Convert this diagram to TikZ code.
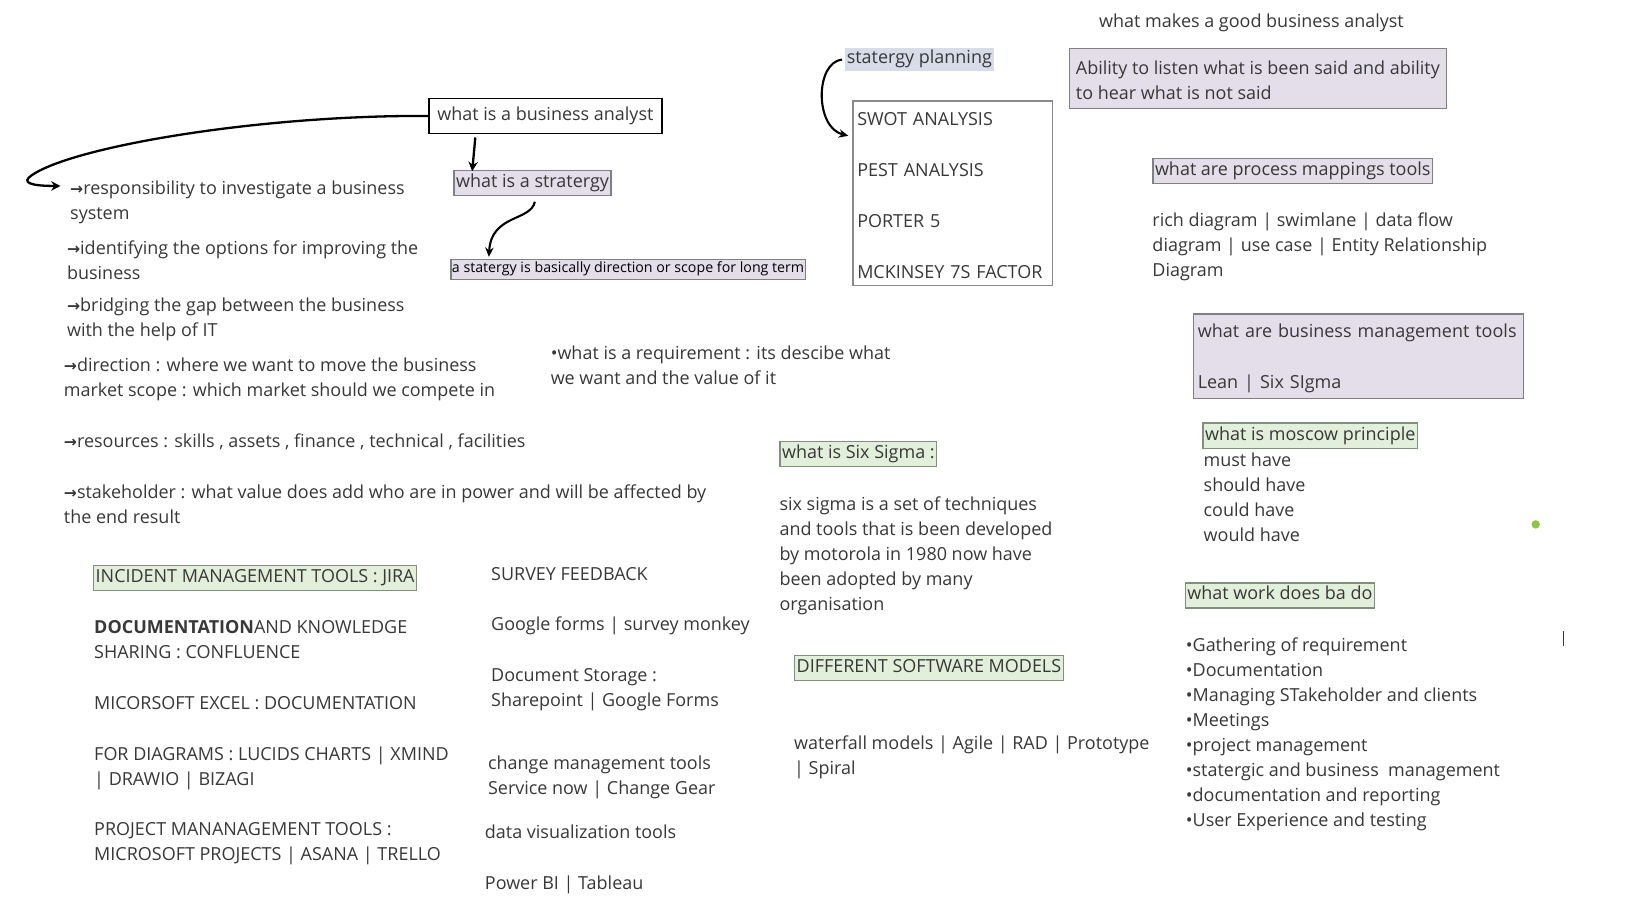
\documentclass[tikz,border=0pt]{standalone}
\usepackage{fontspec}
\setmainfont{Open Sans}
\newfontfamily\arrowfont{DejaVu Sans}
\usetikzlibrary{arrows.meta}

\definecolor{inkGray}{HTML}{383838}
\definecolor{lavFill}{HTML}{E4DDEA}
\definecolor{lavEdge}{HTML}{7F7F86}
\definecolor{greenFill}{HTML}{E2EFDA}
\definecolor{greenEdge}{HTML}{80907C}
\definecolor{planFill}{HTML}{D7DCE8}
\definecolor{boxEdge}{HTML}{8A8A8A}
\definecolor{dotGreen}{HTML}{8DC63F}

\newcommand{\baArrow}{{\arrowfont\bfseries\fontsize{15}{24}\selectfont →}}

\begin{document}
\begin{tikzpicture}[
            x=1pt, y=-1pt,
            every node/.style={text=inkGray, font=\fontsize{17.2}{24}\selectfont},
            note/.style={anchor=north west, inner sep=0pt, align=left, yshift=-2.5pt},
            tag/.style={anchor=west, inner xsep=2pt, inner ysep=0pt, minimum height=24pt,
            text height=12.5pt, text depth=4pt, line width=1.2pt, yshift=-1.5pt},
            lavTag/.style={tag, fill=lavFill, draw=lavEdge},
            greenTag/.style={tag, fill=greenFill, draw=greenEdge},
            listBox/.style={anchor=north west, align=left, inner xsep=4pt, inner ysep=3pt},
            arrow/.style={line width=2.2pt, -{Stealth[length=9pt,width=9pt]}},
            openArrow/.style={line width=2pt, -{Stealth[open,length=9pt,width=8pt]}},
        ]
        \useasboundingbox[fill=white] (0,0) rectangle (1567,866);

        % centre column
        \node[tag, draw=black, fill=white, inner xsep=5pt, minimum height=34pt, minimum width=223pt, yshift=0pt] (baQuestion) at (410,109.5) {what is a business analyst};
        \node[lavTag] (stratQuestion) at (434,174) {what is a stratergy};
        \node[lavTag, font=\fontsize{13.6}{16}\selectfont, text=black, minimum height=19pt,
            text height=9.5pt, text depth=3pt, inner xsep=1pt, yshift=0pt] (stratAnswer) at (431,256.5) {a statergy is basically direction or scope for long term};
        \node[note] (reqNote) at (527,325) {\strut•what is a requirement : its descibe what\\we want and the value of it};

        % left column
        \coordinate (respTip) at (58,178);
        \node[note] (respNote) at (67,167) {\strut\baArrow responsibility to investigate a business\\system};
        \node[note] (identNote) at (64,224) {\strut\baArrow identifying the options for improving the\\business};
        \node[note] (bridgeNote) at (64,279) {\strut\baArrow bridging the gap between the business\\with the help of IT};
        \node[note] (directionNote) at (61,336) {\strut\baArrow direction : where we want to move the business\\market scope : which market should we compete in};
        \node[note] (resourceNote) at (61,409) {\strut\baArrow resources : skills , assets , finance , technical , facilities};
        \node[note] (stakeNote) at (61,458) {\strut\baArrow stakeholder : what value does add who are in power and will be affected by\\the end result};

        % tools
        \node[greenTag] (incidentTag) at (89,551.5) {INCIDENT MANAGEMENT TOOLS : JIRA};
        \node[note] (docNote) at (90,587) {\strut\textbf{DOCUMENTATION}AND KNOWLEDGE\\SHARING : CONFLUENCE};
        \node[note] (excelNote) at (90,660) {\strut MICORSOFT EXCEL : DOCUMENTATION};
        \node[note] (diagNote) at (90,708) {\strut FOR DIAGRAMS : LUCIDS CHARTS | XMIND\\| DRAWIO | BIZAGI};
        \node[note] (projNote) at (90,780) {\strut PROJECT MANANAGEMENT TOOLS :\\MICROSOFT PROJECTS | ASANA | TRELLO};
        \node[note] (surveyNote) at (470,536) {\strut SURVEY FEEDBACK};
        \node[note] (formsNote) at (470,584) {\strut Google forms | survey monkey};
        \node[note] (storageNote) at (470,633) {\strut Document Storage :\\Sharepoint | Google Forms};
        \node[note] (changeNote) at (467,717) {\strut change management tools\\Service now | Change Gear};
        \node[note] (vizNote) at (464,783) {\strut data visualization tools};
        \node[note] (powerNote) at (464,832) {\strut Power BI | Tableau};

        % six sigma and models
        \node[greenTag] (sixTag) at (746,433) {what is Six Sigma :};
        \node[note] (sixNote) at (746,469) {\strut six sigma is a set of techniques\\and tools that is been developed\\by motorola in 1980 now have\\been adopted by many\\organisation};
        \node[greenTag] (modelTag) at (760,638) {DIFFERENT SOFTWARE MODELS};
        \node[note] (modelNote) at (760,698) {\strut waterfall models | Agile | RAD | Prototype\\| Spiral};

        % planning
        \node[tag, fill=planFill, minimum height=22pt, yshift=-0.5pt] (planTag) at (808,55) {statergy planning};
        \node[listBox, draw=boxEdge, line width=1.2pt, text width=183pt, minimum width=191pt, minimum height=177pt] (planBox) at (816,96)
            {\strut SWOT ANALYSIS\\[24.7pt]PEST ANALYSIS\\[24.7pt]PORTER 5\\[24.7pt]MCKINSEY 7S FACTOR};

        % right column
        \node[note] (goodBa) at (1052,7) {\strut what makes a good business analyst};
        \node[listBox, fill=lavFill, draw=lavEdge, line width=1.2pt, inner xsep=2pt, minimum width=361pt, minimum height=57pt] (listenBox) at (1023,46)
            {\strut Ability to listen what is been said and ability\\to hear what is not said};
        \node[lavTag] (processTag) at (1103,162) {what are process mappings tools};
        \node[note] (processNote) at (1103,197) {\strut rich diagram | swimlane | data flow\\diagram | use case | Entity Relationship\\Diagram};
        \node[listBox, fill=lavFill, draw=lavEdge, line width=1.2pt, text width=308pt, minimum height=81pt] (mgmtBox) at (1142,300)
            {\strut what are business management tools\\[24pt]Lean | Six SIgma};
        \node[greenTag] (moscowTag) at (1151,415.5) {what is moscow principle};
        \node[note] (moscowNote) at (1152,427) {\strut must have\\should have\\could have\\would have};
        \node[greenTag] (workTag) at (1134,568.5) {what work does ba do};
        \node[note] (workNote) at (1135,604) {\strut•Gathering of requirement\\•Documentation\\•Managing STakeholder and clients\\•Meetings\\•project management\\•statergic and business\ \ management\\•documentation and reporting\\•User Experience and testing};

        \fill[dotGreen] (1470,502) circle (4pt);
        \draw[inkGray, line width=1pt] (1497,604) -- (1497,618);

        % connectors
        \draw[arrow] (baQuestion.west) .. controls (250,110) and (70,140) .. (30,168)
            .. controls (20,175) and (30,178) .. (respTip);
        \draw[arrow] ([xshift=45pt,yshift=-3pt]baQuestion.south west) -- ([xshift=18pt,yshift=-1pt]stratQuestion.north west);
        \draw[openArrow] ([xshift=78pt,yshift=-5pt]stratQuestion.south west) .. controls (508,212) and (470,205) .. ([xshift=37pt,yshift=2pt]stratAnswer.north west);
        \draw[openArrow] ([xshift=-2pt]planTag.west) .. controls (780,60) and (780,122) .. ([xshift=-4pt,yshift=-34pt]planBox.north west);
    \end{tikzpicture}
\end{document}
